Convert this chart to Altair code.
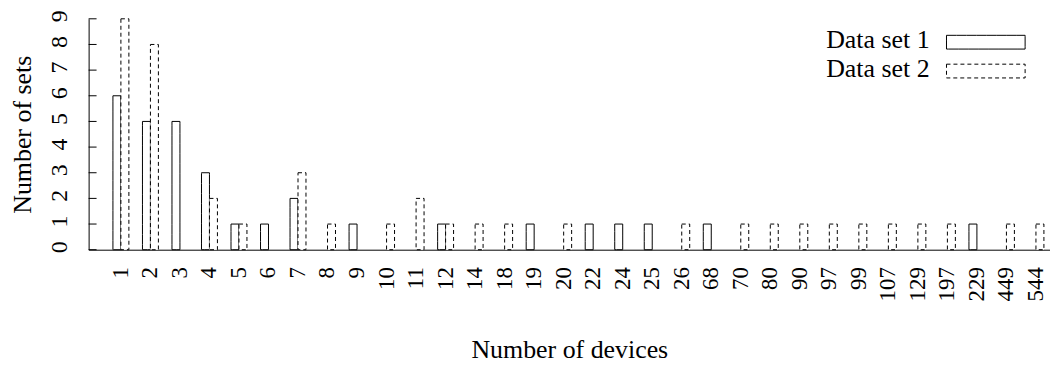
import altair as alt
import pandas as pd

categories = ["1", "2", "3", "4", "5", "6", "7", "8", "9", "10", "11", "12", "14", "18",
              "19", "20", "22", "24", "25", "26", "68", "70", "80", "90", "97", "99",
              "107", "129", "197", "229", "449", "544"]
set1 = [6, 5, 5, 3, 1, 1, 2, 0, 1, 0, 0, 1, 0, 0, 1, 0, 1, 1, 1, 0, 1, 0, 0, 0, 0, 0, 0, 0, 0, 1, 0, 0]
set2 = [9, 8, 0, 2, 1, 0, 3, 1, 0, 1, 2, 1, 1, 1, 0, 1, 0, 0, 0, 1, 0, 1, 1, 1, 1, 1, 1, 1, 1, 0, 1, 1]
series_names = ["Data set 1", "Data set 2"]
y_ticks = list(range(10))

FONT = "Liberation Serif"

rows = []
for i, c in enumerate(categories):
    rows.append({"devices": c, "series": series_names[0], "value": set1[i]})
    rows.append({"devices": c, "series": series_names[1], "value": set2[i]})
df = pd.DataFrame(rows)
legend_df = pd.DataFrame({"series": series_names})

yscale = alt.Scale(domain=[0, 9], nice=False, zero=True)
xscale = alt.Scale(paddingInner=0.46, paddingOuter=0.515, align=0.8)
dash_scale = alt.Scale(domain=series_names, range=[[10, 0], [4, 3]])
legend_y = alt.Scale(type="point", domain=series_names, range=[23.5, 52.5], padding=0)

bars = alt.Chart(df).transform_filter("datum.value > 0").mark_bar(
    fill="white", stroke="black", strokeWidth=1, fillOpacity=1
).encode(
    x=alt.X("devices:N", sort=categories, scale=xscale, title="Number of devices",
            axis=alt.Axis(labelAngle=270, labelAlign="right", labelBaseline="middle",
                          labelPadding=17, ticks=False, tickSize=0, domainColor="black",
                          domainWidth=1, grid=False, labelFont=FONT, labelFontSize=23,
                          labelColor="black", titleFont=FONT, titleFontSize=26,
                          titleFontWeight="normal", titleColor="black", titleY=108,
                          titleBaseline="alphabetic", labelOverlap=False)),
    xOffset=alt.XOffset("series:N", scale=alt.Scale(domain=series_names, paddingInner=0, paddingOuter=0)),
    y=alt.Y("value:Q", scale=yscale, title="Number of sets",
            axis=alt.Axis(values=y_ticks, labelAngle=270, labelAlign="center",
                          labelBaseline="alphabetic", labelPadding=22, labelOffset=-3,
                          ticks=False, tickSize=0, domainColor="black", domainWidth=1,
                          grid=False, labelFont=FONT, labelFontSize=24, labelColor="black",
                          titleFont=FONT, titleFontSize=26, titleFontWeight="normal",
                          titleColor="black", titleAngle=270, titleX=-58,
                          titleBaseline="alphabetic", labelOverlap=False)),
    strokeDash=alt.StrokeDash("series:N", scale=dash_scale, legend=None),
)

ticks = alt.Chart(pd.DataFrame({"tick": y_ticks})).mark_rule(
    color="black", strokeWidth=1
).encode(
    y=alt.Y("tick:Q", scale=yscale, axis=None),
    x=alt.value(0),
    x2=alt.value(8),
)

leg_sym = alt.Chart(legend_df).mark_point(
    shape="M-1,-0.175H1V0.175H-1Z", size=6241, filled=False, fill="white",
    fillOpacity=1, stroke="black", strokeWidth=1, opacity=1
).encode(
    x=alt.value(901.5),
    y=alt.Y("series:N", scale=legend_y, axis=None),
    strokeDash=alt.StrokeDash("series:N", scale=dash_scale, legend=None),
)

leg_txt = alt.Chart(legend_df).mark_text(
    align="right", baseline="alphabetic", dy=6, font=FONT, fontSize=26, color="black"
).encode(
    x=alt.value(845),
    y=alt.Y("series:N", scale=legend_y, axis=None),
    text="series:N",
)

chart = alt.layer(bars, ticks, leg_sym, leg_txt).resolve_scale(
    y="independent"
).properties(
    width=966, height=232,
    padding={"left": 81, "top": 10, "right": 0, "bottom": 117},
    autosize=alt.AutoSizeParams(type="none"),
    background="white",
).configure_view(strokeWidth=0)

chart.save("out.html", embed_options={"renderer": "svg", "actions": False})
